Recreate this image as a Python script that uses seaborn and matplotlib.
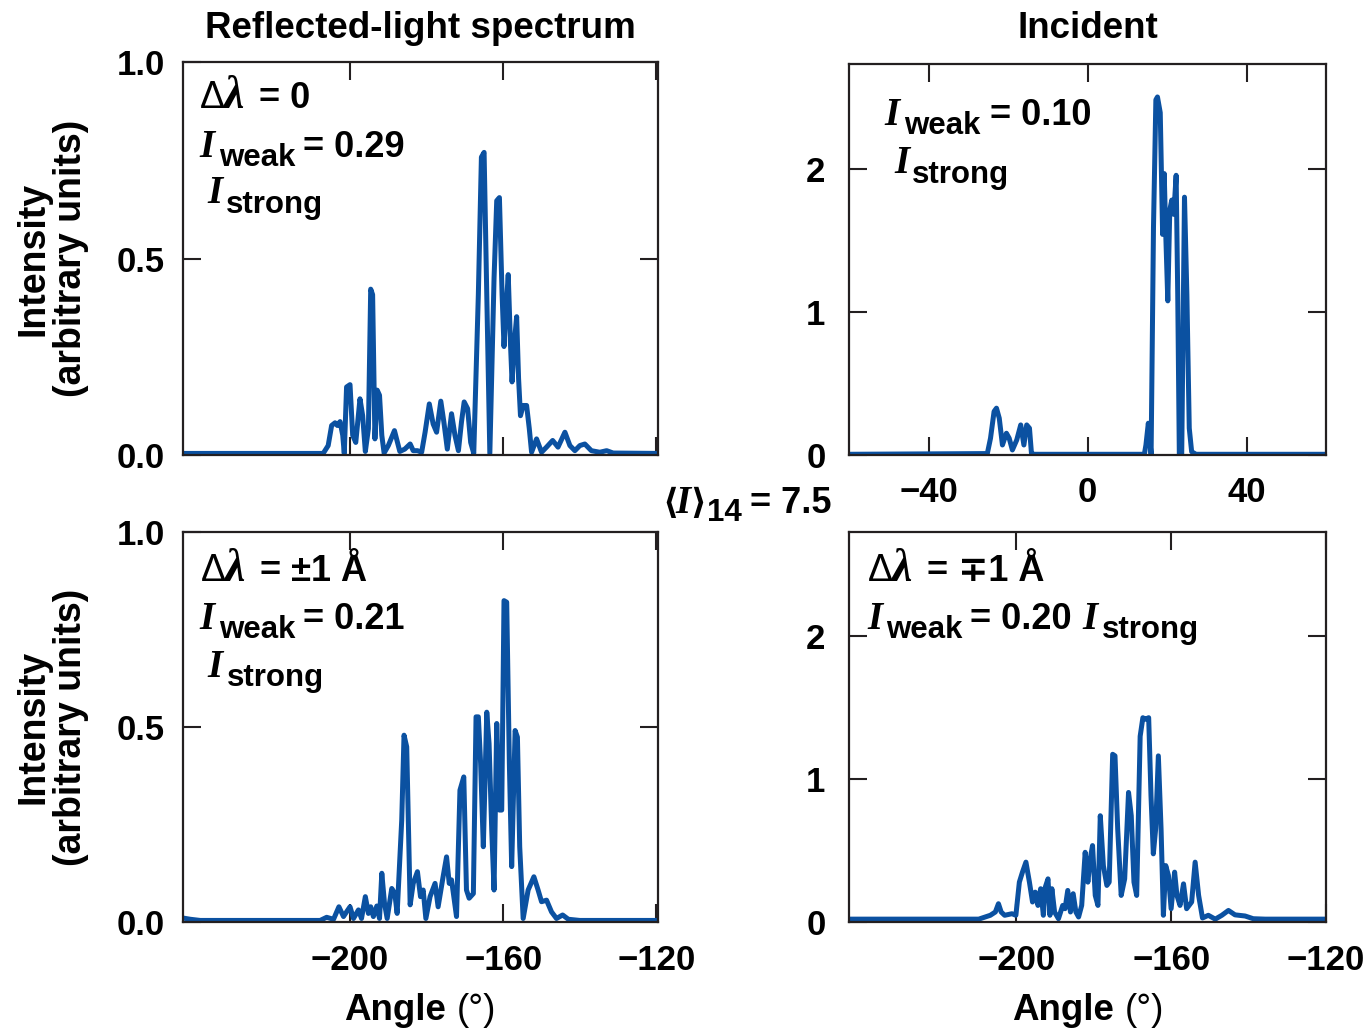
import matplotlib
matplotlib.use("Agg")
import matplotlib.pyplot as plt
import seaborn as sns

# digitised curves, angle in degrees and intensity (arbitrary units)
# top left: reflected light, d-lambda = 0
refl0_angle = [-243.5, -207.0, -205.7, -204.8, -203.9, -203.3, -202.6, -201.9, -201.5, -200.9,
               -200.0, -199.3, -198.5, -197.4, -196.7, -196.0, -195.2, -194.6, -194.1, -193.5,
               -192.9, -192.3, -191.7, -191.1, -190.0, -188.4, -187.0, -185.7, -184.3, -183.5,
               -182.4, -181.3, -180.4, -179.3, -178.3, -177.4, -176.3, -175.5, -174.6, -173.5,
               -172.6, -171.7, -170.9, -170.2, -169.3, -168.5, -167.7, -166.5, -165.7, -165.0,
               -164.3, -163.5, -162.4, -161.7, -161.0, -160.3, -159.8, -159.3, -158.7, -158.1,
               -157.7, -157.0, -156.5, -156.0, -155.5, -154.8, -153.9, -153.2, -152.6, -151.3,
               -150.0, -148.7, -147.1, -145.7, -143.9, -142.6, -141.3, -140.0, -138.7, -137.0,
               -134.8, -133.0, -131.3, -119.5]
refl0_int = [0.004, 0.004, 0.024, 0.075, 0.082, 0.075, 0.085, 0.050, 0.004, 0.173,
             0.179, 0.050, 0.032, 0.143, 0.100, 0.009, 0.067, 0.422, 0.408, 0.041,
             0.165, 0.152, 0.050, 0.005, 0.024, 0.062, 0.009, 0.015, 0.028, 0.011,
             0.011, 0.007, 0.058, 0.130, 0.079, 0.058, 0.137, 0.084, 0.015, 0.105,
             0.050, 0.011, 0.084, 0.135, 0.118, 0.032, 0.004, 0.408, 0.758, 0.770,
             0.408, 0.004, 0.450, 0.647, 0.655, 0.408, 0.276, 0.365, 0.459, 0.280,
             0.186, 0.297, 0.352, 0.195, 0.100, 0.126, 0.126, 0.067, 0.007, 0.041,
             0.007, 0.020, 0.037, 0.020, 0.058, 0.024, 0.011, 0.024, 0.028, 0.011,
             0.007, 0.011, 0.005, 0.004]

# top right: incident
inc_angle = [-60.0, -25.2, -24.4, -23.5, -22.9, -22.2, -21.4, -20.4, -19.7, -18.9,
             -17.8, -16.8, -16.0, -15.3, -14.6, -14.1, -13.4, 14.3, 14.7, 15.3,
             16.0, 16.6, 17.2, 17.6, 18.3, 18.9, 19.3, 19.7, 20.2, 20.7,
             21.2, 21.7, 22.3, 22.7, 23.1, 23.7, 24.4, 25.0, 25.6, 26.2,
             27.3, 60.0]
inc_int = [0.005, 0.010, 0.117, 0.304, 0.327, 0.257, 0.070, 0.152, 0.117, 0.035,
           0.105, 0.210, 0.070, 0.210, 0.187, 0.012, 0.005, 0.005, 0.070, 0.222,
           0.005, 1.590, 2.480, 2.500, 2.390, 1.540, 1.965, 1.530, 1.076, 1.710,
           1.780, 1.680, 1.953, 1.120, 0.005, 0.005, 1.800, 1.120, 0.187, 0.023,
           0.005, 0.005]

# bottom left: reflected light, d-lambda = +-1 A
refl1_angle = [-243.5, -241.7, -239.1, -207.8, -206.1, -204.3, -202.9, -201.7, -200.9, -200.0,
               -199.1, -197.8, -197.0, -196.0, -195.2, -194.6, -193.9, -193.0, -192.3, -191.7,
               -191.0, -190.3, -189.1, -188.3, -187.7, -186.5, -185.9, -185.2, -184.3, -183.5,
               -182.4, -181.6, -180.9, -180.2, -179.1, -177.8, -177.0, -175.7, -174.8, -174.1,
               -173.5, -172.9, -172.2, -171.3, -170.3, -169.6, -168.9, -167.8, -167.1, -166.5,
               -165.9, -165.2, -164.3, -163.7, -163.0, -162.4, -161.7, -161.0, -160.4, -159.8,
               -159.1, -158.4, -157.8, -156.9, -156.3, -155.7, -154.8, -153.5, -152.0, -150.9,
               -150.0, -148.7, -147.4, -146.1, -144.5, -143.0, -140.0, -119.5]
refl1_int = [0.010, 0.007, 0.004, 0.004, 0.012, 0.007, 0.039, 0.014, 0.026, 0.039,
             0.009, 0.031, 0.009, 0.065, 0.022, 0.039, 0.014, 0.041, 0.009, 0.125,
             0.048, 0.009, 0.086, 0.073, 0.022, 0.261, 0.479, 0.449, 0.044, 0.099,
             0.129, 0.065, 0.082, 0.009, 0.065, 0.099, 0.039, 0.116, 0.167, 0.099,
             0.108, 0.065, 0.014, 0.338, 0.372, 0.082, 0.061, 0.073, 0.526, 0.526,
             0.406, 0.193, 0.538, 0.457, 0.235, 0.082, 0.509, 0.287, 0.287, 0.824,
             0.820, 0.406, 0.142, 0.491, 0.474, 0.193, 0.009, 0.082, 0.116, 0.082,
             0.052, 0.056, 0.026, 0.009, 0.018, 0.007, 0.004, 0.004]

# bottom right: d-lambda = -+1 A
refl2_angle = [-243.5, -209.7, -206.7, -205.4, -204.6, -203.9, -203.0, -201.1, -200.1, -199.2,
               -198.4, -197.5, -196.6, -195.8, -195.1, -194.4, -193.7, -193.0, -192.5, -191.8,
               -191.3, -190.8, -190.1, -189.1, -188.0, -187.4, -186.7, -186.0, -185.3, -184.6,
               -183.9, -183.1, -182.2, -181.5, -180.9, -180.3, -179.6, -178.9, -178.3, -177.5,
               -176.6, -176.0, -175.1, -174.5, -173.8, -172.9, -172.0, -171.0, -170.3, -169.6,
               -168.9, -168.0, -167.3, -166.7, -165.8, -165.2, -164.6, -164.0, -163.3, -162.6,
               -162.0, -161.4, -160.7, -160.0, -159.1, -158.5, -157.7, -156.8, -156.0, -154.7,
               -153.8, -152.9, -151.9, -150.4, -148.6, -146.9, -145.2, -143.5, -140.9, -138.8,
               -135.7, -119.7]
refl2_int = [0.020, 0.020, 0.047, 0.070, 0.128, 0.070, 0.047, 0.058, 0.047, 0.279,
             0.349, 0.419, 0.279, 0.140, 0.209, 0.116, 0.233, 0.047, 0.244, 0.302,
             0.047, 0.233, 0.070, 0.023, 0.116, 0.093, 0.221, 0.070, 0.198, 0.070,
             0.035, 0.116, 0.488, 0.279, 0.442, 0.535, 0.186, 0.116, 0.744, 0.395,
             0.256, 0.279, 1.174, 1.163, 0.651, 0.186, 0.302, 0.907, 0.744, 0.279,
             0.186, 1.300, 1.430, 1.419, 1.430, 0.884, 0.477, 0.651, 1.163, 0.651,
             0.047, 0.395, 0.326, 0.093, 0.349, 0.186, 0.116, 0.267, 0.093, 0.140,
             0.419, 0.186, 0.028, 0.047, 0.020, 0.047, 0.081, 0.050, 0.042, 0.023,
             0.020, 0.020]

angle_ticks = [-200, -160, -120]
angle_labels = ["\u2212200", "\u2212160", "\u2212120"]
inc_ticks = [-40, 0, 40]
inc_labels = ["\u221240", "0", "40"]

BLUE = "#0b51a1"
INK = "#231f20"
SANS = ["Liberation Sans", "DejaVu Sans"]
SERIF = ["Liberation Serif", "DejaVu Serif"]

sns.set_style("ticks")
plt.rcParams["font.family"] = SANS
plt.rcParams["font.weight"] = "bold"
plt.rcParams["text.color"] = "black"
plt.rcParams["axes.labelcolor"] = "black"
plt.rcParams["axes.edgecolor"] = INK
plt.rcParams["axes.linewidth"] = 1.6

W, H = 1365, 1029
fig = plt.figure(figsize=(W / 100, H / 100), dpi=100)


def make_axes(x0, y0, x1, y1):
    return fig.add_axes([x0 / W, 1 - y1 / H, (x1 - x0) / W, (y1 - y0) / H])


def put(x, y, s, size=26, weight="bold", style="normal", family=SANS, **kw):
    fig.text(x / W, 1 - y / H, s, fontsize=size, fontweight=weight,
             fontstyle=style, family=family, ha="left", va="baseline",
             color="black", **kw)


def italic_i(x, y, size=28):
    put(x, y, "I", size=size, weight="bold", style="italic", family=SERIF)


def style_axes(ax, ypad, xpad):
    ax.tick_params(direction="in", length=13, width=1.5, labelsize=25,
                   top=True, right=True, color=INK, labelcolor="black")
    ax.tick_params(axis="y", pad=ypad)
    ax.tick_params(axis="x", pad=xpad)
    for lab in ax.get_xticklabels() + ax.get_yticklabels():
        lab.set_fontweight("bold")


ax_tl = make_axes(183, 62, 658, 455)
ax_tr = make_axes(849, 64, 1326, 455)
ax_bl = make_axes(183, 532, 658, 922)
ax_br = make_axes(849, 532, 1326, 922)

panels = [
    (ax_tl, refl0_angle, refl0_int),
    (ax_tr, inc_angle, inc_int),
    (ax_bl, refl1_angle, refl1_int),
    (ax_br, refl2_angle, refl2_int),
]
for ax, xs, ys in panels:
    sns.lineplot(x=xs, y=ys, ax=ax, color=BLUE, lw=3.6, sort=False, estimator=None)

# left column: reflected spectrum
for ax in (ax_tl, ax_bl):
    ax.set_xlim(-243.6, -119.6)
    ax.set_ylim(0, 1.0)
    ax.set_xticks(angle_ticks)
    ax.set_yticks([0, 0.5, 1.0])
    ax.set_yticklabels(["0.0", "0.5", "1.0"])
    ax.set_ylabel("Intensity\n(arbitrary units)", fontsize=27, fontweight="bold",
                  labelpad=20, linespacing=1.05)
ax_tl.set_xticklabels([])
ax_bl.set_xticklabels(angle_labels)

# right column
for ax in (ax_tr, ax_br):
    ax.set_ylim(0, 2.73)
    ax.set_yticks([0, 1, 2])
    ax.set_yticklabels(["0", "1", "2"])
ax_tr.set_xlim(-60, 60)
ax_tr.set_xticks(inc_ticks)
ax_tr.set_xticklabels(inc_labels)
ax_br.set_xlim(-243.2, -120)
ax_br.set_xticks(angle_ticks)
ax_br.set_xticklabels(angle_labels)

style_axes(ax_tl, 13, 16)
style_axes(ax_bl, 13, 16)
style_axes(ax_tr, 17, 15)
style_axes(ax_br, 17, 16)

ax_tl.set_title("Reflected-light spectrum", fontsize=26.5, fontweight="bold", pad=17)
ax_tr.set_title("Incident", fontsize=26.5, fontweight="bold", pad=19)

# x labels: bold "Angle", regular "(°)"
for x0 in (344, 1012):
    put(x0, 1020, "Angle", size=26.5)
    put(x0 + 113, 1020, "(\u00b0)", size=26.5, weight="normal")

# in-panel annotations
# top left
put(200, 108, "\u0394", size=27, weight="normal")
put(224, 108, "\u03bb", size=33, style="italic", family=SERIF)
put(259, 108, "= 0")
italic_i(199, 157)
put(219, 166, "weak", size=22.5)
put(303, 157, "= 0.29")
italic_i(207, 203)
put(226, 213, "strong", size=22.5)

# top right
italic_i(884, 125)
put(904, 134, "weak", size=22.5)
put(990, 125, "= 0.10")
italic_i(894, 173)
put(912, 183, "strong", size=22.5)

# bottom left
put(201, 581, "\u0394", size=27, weight="normal")
put(225, 581, "\u03bb", size=33, style="italic", family=SERIF)
put(260, 581, "= \u00b11 \u00c5")
italic_i(199, 629)
put(219, 638, "weak", size=22.5)
put(303, 629, "= 0.21")
italic_i(207, 677)
put(227, 686, "strong", size=22.5)

# bottom right
put(868, 581, "\u0394", size=27, weight="normal")
put(892, 581, "\u03bb", size=33, style="italic", family=SERIF)
put(927, 581, "= \u22131 \u00c5")
italic_i(867, 629)
put(886, 638, "weak", size=22.5)
put(970, 629, "= 0.20")
italic_i(1082, 629)
put(1102, 638, "strong", size=22.5)

# mean intensity between the panels
put(662, 513, r"$\langle$", size=25, weight="normal", math_fontfamily="dejavusans")
italic_i(675, 513)
put(690, 513, r"$\rangle$", size=25, weight="normal", math_fontfamily="dejavusans")
put(707, 521, "14", size=22.5)
put(750, 513, "= 7.5")

fig.savefig("out.png", dpi=100)
